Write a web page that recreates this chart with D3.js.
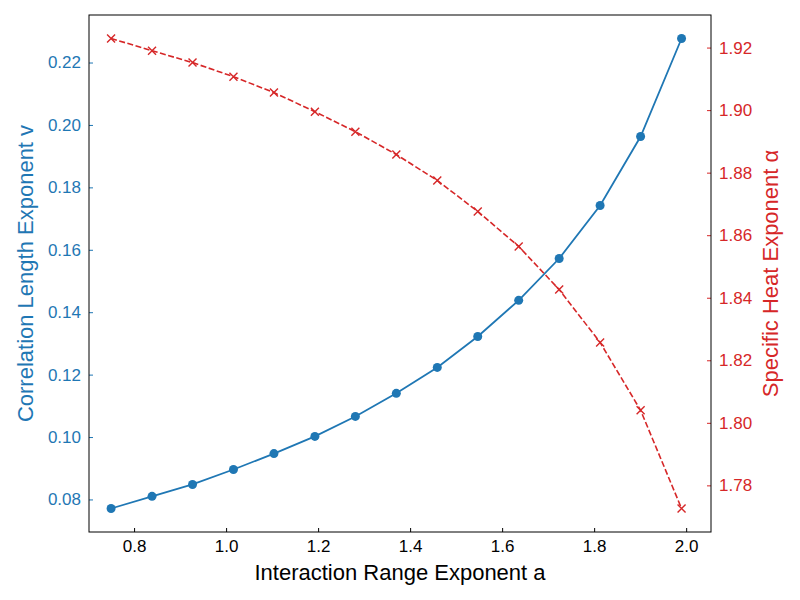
<!DOCTYPE html>
<html>
<head>
<meta charset="utf-8">
<script src="https://cdn.jsdelivr.net/npm/d3@7"></script>
<style>
body { margin: 0; background: #fff; }
text { font-family: "Liberation Sans", Arial, sans-serif; }
</style>
</head>
<body>
<svg id="chart" width="800" height="600"></svg>
<script>
// Interaction range exponent a
var rangeExp = [0.75, 0.839, 0.927, 1.016, 1.104, 1.193, 1.281, 1.370, 1.459, 1.547, 1.636, 1.724, 1.813, 1.901, 1.990];
// Correlation length exponent v
var corrExp = [0.0771, 0.0810, 0.0848, 0.0896, 0.0947, 0.1002, 0.1066, 0.1140, 0.1223, 0.1322, 0.1438, 0.1572, 0.1742, 0.1963, 0.2277];
// Specific heat exponent alpha
var heatExp = [1.9229, 1.9190, 1.9152, 1.9107, 1.9056, 1.8995, 1.8931, 1.8858, 1.8775, 1.8676, 1.8564, 1.8426, 1.8257, 1.8040, 1.7726];

var xTicks = [0.8, 1.0, 1.2, 1.4, 1.6, 1.8, 2.0];
var leftTicks = [0.08, 0.10, 0.12, 0.14, 0.16, 0.18, 0.20, 0.22];
var rightTicks = [1.78, 1.80, 1.82, 1.84, 1.86, 1.88, 1.90, 1.92];

var blue = "#1f77b4", red = "#d62728";
var m = { left: 89, right: 711, top: 15, bottom: 532 };
var svg = d3.select("#chart");

function padded(vals) {
  var lo = d3.min(vals), hi = d3.max(vals), p = (hi - lo) * 0.05;
  return [lo - p, hi + p];
}

var x = d3.scaleLinear().domain([0.702, 2.054]).range([m.left, m.right]);
var yL = d3.scaleLinear().domain(padded(corrExp)).range([m.bottom, m.top]);
var yR = d3.scaleLinear().domain(padded(heatExp)).range([m.bottom, m.top]);

function styleAxis(g, color) {
  g.selectAll(".domain").remove();
  g.selectAll("line").attr("stroke", color);
  g.selectAll("text").attr("fill", color).style("font-size", "17px");
}

svg.append("g").attr("transform", "translate(0," + m.bottom + ")")
  .call(d3.axisBottom(x).tickValues(xTicks).tickFormat(d3.format(".1f")).tickSizeInner(-4).tickPadding(8))
  .call(function(g) { styleAxis(g, "#000"); });

svg.append("g").attr("transform", "translate(" + m.left + ",0)")
  .call(d3.axisLeft(yL).tickValues(leftTicks).tickFormat(d3.format(".2f")).tickSizeInner(-4).tickPadding(8))
  .call(function(g) { styleAxis(g, blue); });

svg.append("g").attr("transform", "translate(" + m.right + ",0)")
  .call(d3.axisRight(yR).tickValues(rightTicks).tickFormat(d3.format(".2f")).tickSizeInner(-4).tickPadding(8))
  .call(function(g) { styleAxis(g, red); });

svg.append("rect").attr("x", m.left).attr("y", m.top)
  .attr("width", m.right - m.left).attr("height", m.bottom - m.top)
  .attr("fill", "none").attr("stroke", "#000").attr("stroke-width", 1);

// Series v
svg.append("path").datum(rangeExp)
  .attr("fill", "none").attr("stroke", blue).attr("stroke-width", 1.8)
  .attr("d", d3.line().x(function(d) { return x(d); }).y(function(d, i) { return yL(corrExp[i]); }));
svg.selectAll(".dot").data(rangeExp).enter().append("circle")
  .attr("cx", function(d) { return x(d); })
  .attr("cy", function(d, i) { return yL(corrExp[i]); })
  .attr("r", 4.5).attr("fill", blue);

// Series alpha
svg.append("path").datum(rangeExp)
  .attr("fill", "none").attr("stroke", red).attr("stroke-width", 1.6)
  .attr("stroke-dasharray", "6,2.5")
  .attr("d", d3.line().x(function(d) { return x(d); }).y(function(d, i) { return yR(heatExp[i]); }));
svg.selectAll(".cross").data(rangeExp).enter().append("path")
  .attr("transform", function(d, i) { return "translate(" + x(d) + "," + yR(heatExp[i]) + ")"; })
  .attr("d", "M-4,-4L4,4M-4,4L4,-4")
  .attr("stroke", red).attr("stroke-width", 1.4);

svg.append("text").attr("x", (m.left + m.right) / 2).attr("y", 580)
  .attr("text-anchor", "middle").style("font-size", "22px").text("Interaction Range Exponent a");
svg.append("text").attr("transform", "translate(33," + (m.top + m.bottom) / 2 + ") rotate(-90)")
  .attr("text-anchor", "middle").attr("fill", blue).style("font-size", "22px").text("Correlation Length Exponent v");
svg.append("text").attr("transform", "translate(778," + (m.top + m.bottom) / 2 + ") rotate(-90)")
  .attr("text-anchor", "middle").attr("fill", red).style("font-size", "22px").text("Specific Heat Exponent α");
</script>
</body>
</html>
